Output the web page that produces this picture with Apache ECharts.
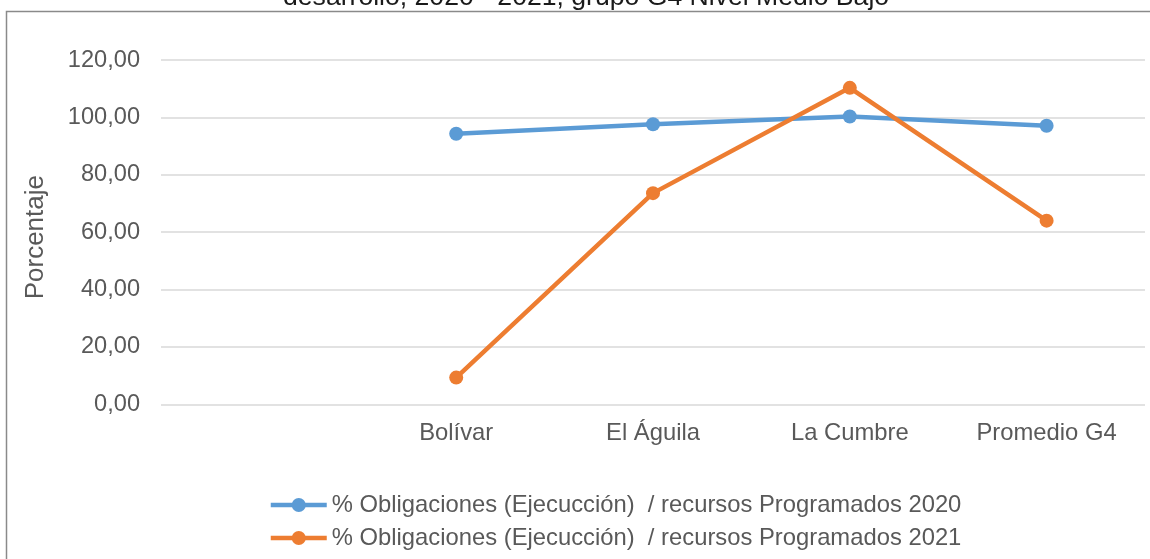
<!DOCTYPE html>
<html>
<head>
<meta charset="utf-8">
<script src="https://cdn.jsdelivr.net/npm/echarts@6/dist/echarts.min.js"></script>
<style>
  html, body { margin: 0; padding: 0; background: #ffffff; }
  #chart { width: 1150px; height: 559px; }
</style>
</head>
<body>
<div id="chart"></div>
<script>
// Municipalities of group G4 plus the group average (first slot left blank)
const categories = ['', 'Bolívar', 'El Águila', 'La Cumbre', 'Promedio G4'];

// % obligations (execution) over programmed resources
const ejecucion2020 = [null, 94.3, 97.6, 100.3, 97.1];
const ejecucion2021 = [null, 9.3, 73.6, 110.3, 64.0];

const seriesNames = [
  '% Obligaciones (Ejecucción)  / recursos Programados 2020',
  '% Obligaciones (Ejecucción)  / recursos Programados 2021'
];

const titleText = 'desarrollo, 2020 - 2021, grupo G4 Nivel Medio Bajo';
const yAxisName = 'Porcentaje';

const FONT = '"Liberation Sans", Arial, sans-serif';
const chart = echarts.init(document.getElementById('chart'), null, { renderer: 'canvas' });

const fmt = v => v.toFixed(2).replace('.', ',');

chart.setOption({
  animation: false,
  backgroundColor: '#ffffff',
  title: {
    text: titleText,
    left: 278,
    top: -21,
    textStyle: { fontFamily: FONT, fontSize: 26.6, fontWeight: 'normal', color: '#1a1a1a' }
  },
  graphic: [{
    type: 'rect',
    shape: { x: 6.5, y: 11.5, width: 1300, height: 700 },
    style: { fill: 'none', stroke: '#8a8a8a', lineWidth: 1.5 },
    silent: true,
    z: -1
  }],
  grid: { left: 161, right: 5, top: 60, bottom: 154.7, containLabel: false },
  legend: {
    orient: 'vertical',
    left: 268.5,
    top: 493,
    padding: 0,
    itemWidth: 56,
    itemHeight: 17.5,
    itemGap: 9,
    lineStyle: { width: 4.5 },
    textStyle: { fontFamily: FONT, fontSize: 23.8, color: '#595959' },
    data: seriesNames
  },
  xAxis: {
    type: 'category',
    data: categories,
    boundaryGap: true,
    axisLine: { show: false },
    axisTick: { show: false },
    axisLabel: { fontFamily: FONT, fontSize: 23.8, color: '#595959', margin: 17 }
  },
  yAxis: {
    type: 'value',
    min: 0,
    max: 120,
    interval: 20,
    name: yAxisName,
    nameLocation: 'middle',
    nameGap: 112,
    nameTextStyle: { fontFamily: FONT, fontSize: 26, color: '#595959', padding: [0, 10, 0, 0] },
    axisLine: { show: false },
    axisTick: { show: false },
    axisLabel: { fontFamily: FONT, fontSize: 23.6, color: '#595959', margin: 21, formatter: fmt },
    splitLine: { lineStyle: { color: '#d9d9d9', width: 1.5 } }
  },
  series: [
    {
      name: seriesNames[0],
      type: 'line',
      data: ejecucion2020,
      symbol: 'circle',
      symbolSize: 14,
      itemStyle: { color: '#5b9bd5' },
      lineStyle: { color: '#5b9bd5', width: 4.5 }
    },
    {
      name: seriesNames[1],
      type: 'line',
      data: ejecucion2021,
      symbol: 'circle',
      symbolSize: 14,
      itemStyle: { color: '#ed7d31' },
      lineStyle: { color: '#ed7d31', width: 4.5 }
    }
  ]
});
</script>
</body>
</html>
